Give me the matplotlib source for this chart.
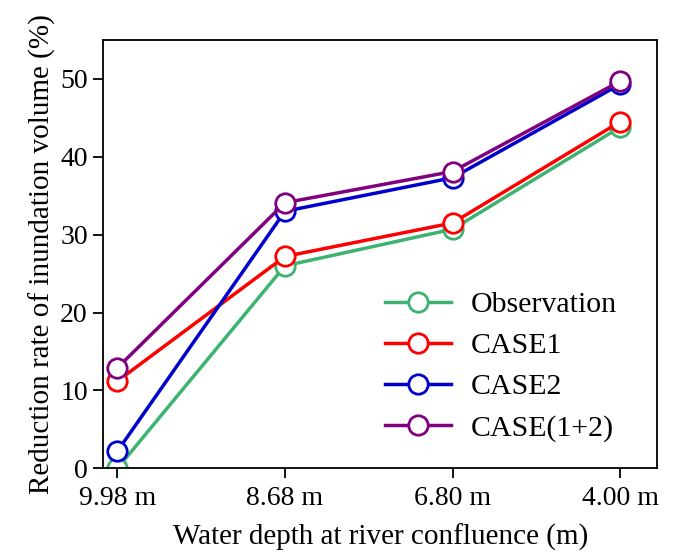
import matplotlib.pyplot as plt

plt.rcParams["font.family"] = ["Liberation Serif", "DejaVu Serif"]

depths = ["9.98 m", "8.68 m", "6.80 m", "4.00 m"]
observation = [0.0, 26.0, 30.7, 43.8]
case1 = [11.2, 27.2, 31.5, 44.5]
case2 = [2.2, 33.0, 37.3, 49.3]
case12 = [12.9, 34.1, 38.1, 49.7]

series = [
    ("Observation", observation, "#3cb371"),
    ("CASE1", case1, "#ff0000"),
    ("CASE2", case2, "#0000cd"),
    ("CASE(1+2)", case12, "#800080"),
]

fig, ax = plt.subplots(figsize=(6.74, 5.53), dpi=100)
fig.subplots_adjust(left=0.153, right=0.975, top=0.928, bottom=0.153)

x = range(len(depths))
for name, vals, color in series:
    ax.plot(x, vals, color=color, lw=2.5, marker="o", ms=14,
            mfc="white", mec=color, mew=2, label=name)

ax.set_xticks(list(x))
ax.set_xticklabels(depths)
ax.set_xlim(-0.085, 3.22)
ax.set_ylim(0, 55)
ax.set_yticks([0, 10, 20, 30, 40, 50])
ax.tick_params(labelsize=20, width=1.3, length=7, pad=4)
ax.tick_params(axis="x", pad=6)
for s in ax.spines.values():
    s.set_linewidth(1.3)

ax.set_xlabel("Water depth at river confluence (m)", fontsize=21, labelpad=9)
ax.set_ylabel("Reduction rate of inundation volume (%)", fontsize=21, labelpad=3)
ax.legend(loc="lower right", frameon=False, fontsize=21.5, handlelength=2.2,
          handletextpad=0.65, labelspacing=0.47,
          bbox_to_anchor=(0.975, 0.0))

fig.savefig("out.png")
